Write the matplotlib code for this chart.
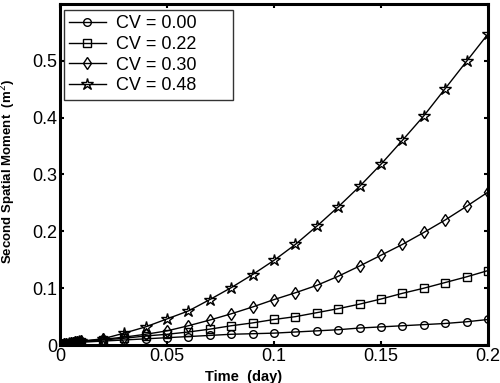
import numpy as np
import matplotlib.pyplot as plt

plt.rcParams['font.family'] = ['Liberation Sans', 'DejaVu Sans']

# time points: dense near zero, then every 0.01 day
t_early = [0.0, 0.001, 0.002, 0.003, 0.004, 0.005, 0.006, 0.007, 0.008, 0.009, 0.010]
t_late = [0.02, 0.03, 0.04, 0.05, 0.06, 0.07, 0.08, 0.09, 0.10, 0.11,
          0.12, 0.13, 0.14, 0.15, 0.16, 0.17, 0.18, 0.19, 0.20]
time = t_early + t_late

cv_labels = ['CV = 0.00', 'CV = 0.22', 'CV = 0.30', 'CV = 0.48']

m_cv000 = [0.0, 0.0005, 0.001, 0.0015, 0.002, 0.0025, 0.003, 0.0035, 0.004, 0.0045, 0.005,
           0.007, 0.009, 0.011, 0.013, 0.015, 0.017, 0.019, 0.020, 0.021, 0.023,
           0.025, 0.027, 0.030, 0.032, 0.034, 0.036, 0.038, 0.041, 0.045]
m_cv022 = [0.0, 0.0006, 0.0012, 0.0018, 0.0024, 0.003, 0.0036, 0.0042, 0.0048, 0.0054, 0.006,
           0.009, 0.012, 0.016, 0.019, 0.023, 0.028, 0.034, 0.039, 0.045, 0.050,
           0.057, 0.064, 0.072, 0.081, 0.091, 0.100, 0.110, 0.120, 0.131]
m_cv030 = [0.0, 0.0006, 0.0012, 0.0018, 0.0025, 0.0032, 0.0039, 0.0046, 0.0053, 0.006, 0.0067,
           0.010, 0.014, 0.019, 0.025, 0.034, 0.044, 0.055, 0.067, 0.080, 0.092,
           0.105, 0.121, 0.139, 0.158, 0.177, 0.198, 0.220, 0.244, 0.269]
m_cv048 = [0.0, 0.0007, 0.0014, 0.0021, 0.0028, 0.0035, 0.0042, 0.0049, 0.0056, 0.0063, 0.007,
           0.011, 0.021, 0.032, 0.046, 0.060, 0.080, 0.101, 0.124, 0.149, 0.177,
           0.209, 0.243, 0.279, 0.318, 0.360, 0.403, 0.451, 0.499, 0.547]
series = [m_cv000, m_cv022, m_cv030, m_cv048]
markers = ['o', 's', 'd', '*']
msizes = [5.5, 6, 6.5, 9]

fig = plt.figure(figsize=(5, 3.83), dpi=100)
ax = fig.add_axes([0.12, 0.099, 0.856, 0.891])

for vals, mk, ms, lab in zip(series, markers, msizes, cv_labels):
    ax.plot(time, vals, color='black', lw=1.0, marker=mk, ms=ms,
            mfc='none', mec='black', mew=1.0, label=lab)

ax.set_xlim(0, 0.2)
ax.set_ylim(0, 0.6)
ax.set_xticks([0, 0.05, 0.1, 0.15, 0.2])
ax.set_xticklabels(['0', '0.05', '0.1', '0.15', '0.2'])
ax.set_yticks([0, 0.1, 0.2, 0.3, 0.4, 0.5])
ax.set_yticklabels(['0', '0.1', '0.2', '0.3', '0.4', '0.5'])
ax.tick_params(direction='in', length=3, width=1.5, labelsize=13,
               top=True, right=True, pad=2)
for sp in ax.spines.values():
    sp.set_linewidth(2.2)

ax.set_xlabel('Time  (day)', fontsize=10.5, fontweight='bold')
ax.xaxis.set_label_coords(0.43, -0.072)
ax.set_ylabel('Second Spatial Moment  (m$^2$)', fontsize=9.5, fontweight='bold')
ax.yaxis.set_label_coords(-0.097, 0.51)

leg = ax.legend(loc='upper left', fontsize=13, frameon=True, fancybox=False,
                edgecolor='black', borderpad=0.3, labelspacing=0.2,
                handlelength=2.0, handletextpad=0.6, borderaxespad=0.0,
                mode='expand', bbox_to_anchor=(0.0093, 0.709, 0.395, 0.273))
leg.get_frame().set_linewidth(1.0)

fig.savefig('out.png', dpi=100)
